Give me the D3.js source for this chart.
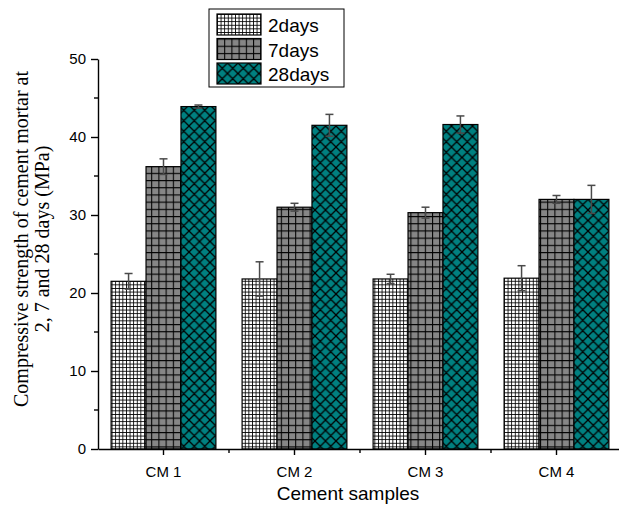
<!DOCTYPE html>
<html>
<head>
<meta charset="utf-8">
<script src="https://cdn.jsdelivr.net/npm/d3@7"></script>
<style>
  body { margin: 0; background: #fff; }
  svg { display: block; }
  text { font-family: "Liberation Sans", Arial, sans-serif; }
</style>
</head>
<body>
<svg id="grafica" width="619" height="505"></svg>
<script>
var samples = ["CM 1", "CM 2", "CM 3", "CM 4"];
var series = ["2days", "7days", "28days"];
var values2 = [21.5, 21.8, 21.8, 21.9];
var errors2 = [1.0, 2.2, 0.6, 1.6];
var values7 = [36.2, 31.0, 30.3, 32.0];
var errors7 = [1.0, 0.5, 0.7, 0.5];
var values28 = [43.9, 41.5, 41.6, 32.0];
var errors28 = [0.2, 1.4, 1.1, 1.8];
var yTicks = [0, 10, 20, 30, 40, 50];

var vals = [values2, values7, values28];
var errs = [errors2, errors7, errors28];
var data = [];
samples.forEach(function(s, i) {
  series.forEach(function(k, j) {
    data.push({sample: s, key: k, value: vals[j][i], err: errs[j][i]});
  });
});

var svg = d3.select("#grafica"),
  margin = {top: 59, bottom: 56, left: 98, right: -3},
  width = +svg.attr("width"),
  height = +svg.attr("height");

// patterns
var defs = svg.append("defs");
var p2 = defs.append("pattern").attr("id", "pat2days")
  .attr("patternUnits", "userSpaceOnUse").attr("width", 3.6).attr("height", 3.6);
p2.append("rect").attr("width", 3.6).attr("height", 3.6).attr("fill", "#fff");
p2.append("path").attr("d", "M0,0.4H3.6M0.4,0V3.6").attr("stroke", "#000").attr("stroke-width", 0.9);

var p7 = defs.append("pattern").attr("id", "pat7days")
  .attr("patternUnits", "userSpaceOnUse").attr("width", 7.2).attr("height", 7.2);
p7.append("rect").attr("width", 7.2).attr("height", 7.2).attr("fill", "#868686");
p7.append("path").attr("d", "M0,0.5H7.2M0.5,0V7.2").attr("stroke", "#000").attr("stroke-width", 1.1);

var s = 10.5;
var p28 = defs.append("pattern").attr("id", "pat28days")
  .attr("patternUnits", "userSpaceOnUse").attr("width", s).attr("height", s);
p28.append("rect").attr("width", s).attr("height", s).attr("fill", "#008080");
p28.append("path").attr("d", `M0,0L${s},${s}M0,${s}L${s},0M-1,1L1,-1M${s-1},${s+1}L${s+1},${s-1}M-1,${s-1}L1,${s+1}M${s-1},-1L${s+1},1`)
  .attr("stroke", "#000").attr("stroke-width", 1.3);

var fills = {"2days": "url(#pat2days)", "7days": "url(#pat7days)", "28days": "url(#pat28days)"};

var x0 = d3.scaleBand()
  .domain(samples)
  .range([margin.left, width - margin.right])
  .paddingInner(0).paddingOuter(0);

var x1 = d3.scaleBand()
  .domain(series)
  .range([x0.bandwidth() * 0.1, x0.bandwidth() * 0.9]);

var y = d3.scaleLinear()
  .domain([0, 50])
  .range([height - margin.bottom, margin.top]);

// bars
var g = svg.append("g");
g.selectAll(".bar")
  .data(data)
  .enter().append("rect")
  .attr("class", "bar")
  .attr("x", d => x0(d.sample) + x1(d.key))
  .attr("y", d => y(d.value))
  .attr("width", x1.bandwidth())
  .attr("height", d => y(0) - y(d.value))
  .attr("fill", d => fills[d.key])
  .attr("stroke", "#000")
  .attr("stroke-width", 1.2);

// error bars
var eb = g.selectAll(".err")
  .data(data)
  .enter().append("g")
  .attr("class", "err")
  .attr("transform", d => `translate(${x0(d.sample) + x1(d.key) + x1.bandwidth() / 2},0)`)
  .attr("stroke", "#4a4a4a")
  .attr("stroke-width", 1.5);
eb.append("line")
  .attr("y1", d => y(d.value - d.err)).attr("y2", d => y(d.value + d.err));
eb.append("line")
  .attr("x1", -4).attr("x2", 4)
  .attr("y1", d => y(d.value + d.err)).attr("y2", d => y(d.value + d.err));
eb.append("line")
  .attr("x1", -4).attr("x2", 4)
  .attr("y1", d => y(d.value - d.err)).attr("y2", d => y(d.value - d.err));

// y axis
var yAxis = svg.append("g")
  .attr("transform", `translate(${margin.left},0)`)
  .call(d3.axisLeft(y).tickValues(yTicks).tickSize(7).tickSizeOuter(0).tickPadding(5));
yAxis.append("g").selectAll("line")
  .data([5, 15, 25, 35, 45])
  .enter().append("line")
  .attr("x1", -4).attr("x2", 0)
  .attr("y1", d => y(d)).attr("y2", d => y(d))
  .attr("stroke", "#000");
yAxis.selectAll("text").style("font-size", "15px").style("font-family", "Liberation Sans, Arial, sans-serif");
yAxis.selectAll("path, line").attr("stroke-width", 1.4);

// x axis
var xAxis = svg.append("g")
  .attr("transform", `translate(0,${y(0)})`)
  .call(d3.axisBottom(x0).tickSize(6).tickSizeOuter(0).tickPadding(11));
xAxis.append("g").selectAll("line")
  .data(samples.slice(1))
  .enter().append("line")
  .attr("x1", d => x0(d)).attr("x2", d => x0(d))
  .attr("y1", 0).attr("y2", 4)
  .attr("stroke", "#000");
xAxis.selectAll("text").style("font-size", "15px").style("font-family", "Liberation Sans, Arial, sans-serif");
xAxis.selectAll("path, line").attr("stroke-width", 1.4);

// axis titles
svg.append("text")
  .attr("x", 348).attr("y", 500)
  .attr("text-anchor", "middle")
  .style("font-size", "19px")
  .text("Cement samples");

var yt = svg.append("text")
  .attr("transform", "translate(0,239) rotate(-90)")
  .attr("text-anchor", "middle")
  .style("font-family", "Liberation Serif, Times New Roman, serif")
  .style("font-size", "20px");
yt.append("tspan").attr("x", 0).attr("y", 28).text("Compressive strength of cement mortar at");
yt.append("tspan").attr("x", 0).attr("y", 49).text("2, 7 and 28 days (MPa)");

// legend
var legend = svg.append("g").attr("transform", "translate(209,9)");
legend.append("rect")
  .attr("width", 135).attr("height", 78)
  .attr("fill", "#fff").attr("stroke", "#000").attr("stroke-width", 1);
var li = legend.selectAll(".li")
  .data(series)
  .enter().append("g")
  .attr("transform", (d, i) => `translate(8,${5 + i * 24.5})`);
li.append("rect")
  .attr("width", 44).attr("height", 21)
  .attr("fill", d => fills[d])
  .attr("stroke", "#000").attr("stroke-width", 1.2);
li.append("text")
  .attr("x", 51).attr("y", 18)
  .style("font-size", "19px")
  .text(d => d);
</script>
</body>
</html>
